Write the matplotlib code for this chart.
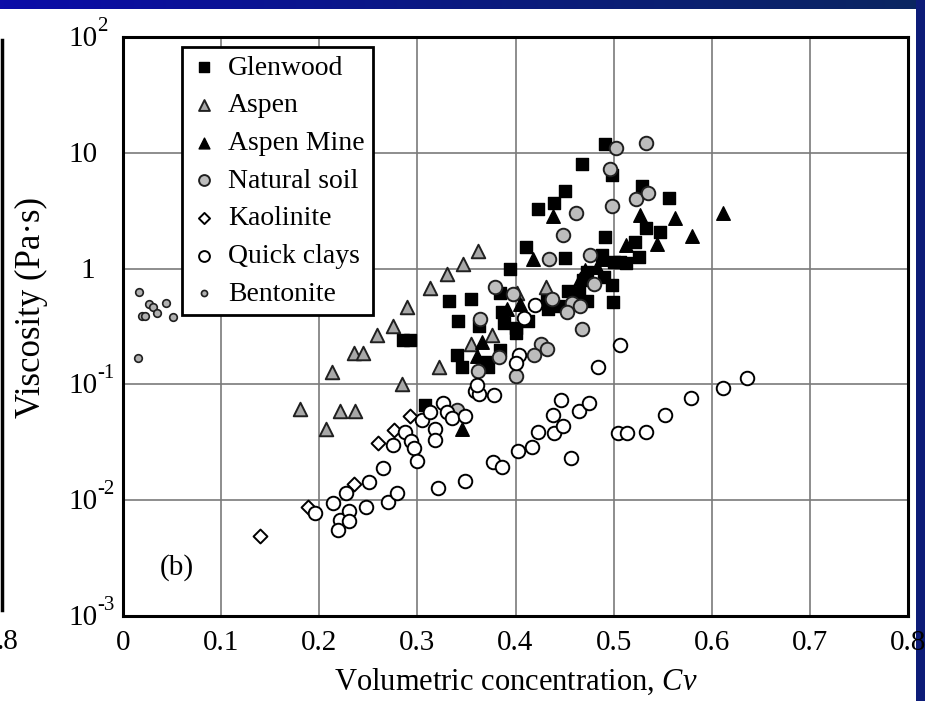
import numpy as np
import matplotlib.pyplot as plt
from matplotlib.lines import Line2D
from matplotlib.ticker import NullLocator

plt.rcParams['font.family'] = 'Liberation Serif'
plt.rcParams['mathtext.fontset'] = 'custom'
plt.rcParams['mathtext.rm'] = 'Liberation Serif'
plt.rcParams['mathtext.it'] = 'Liberation Serif:italic'

# ---- data: Cv and viscosity (Pa s) ----
glen_cv = [0.491, 0.468, 0.498, 0.450, 0.439, 0.423, 0.529, 0.556, 0.533, 0.547,
           0.491, 0.522, 0.411, 0.450, 0.394, 0.507, 0.513, 0.526, 0.488, 0.500,
           0.490, 0.473, 0.469, 0.498, 0.454, 0.465, 0.473, 0.499, 0.432, 0.433,
           0.444, 0.413, 0.384, 0.386, 0.388, 0.401, 0.401, 0.332, 0.355, 0.341,
           0.363, 0.285, 0.292, 0.340, 0.345, 0.371, 0.372, 0.384, 0.308]
glen_eta = [11.9, 8.0, 6.4, 4.7, 3.7, 3.25, 5.2, 4.07, 2.26, 2.05,
            1.87, 1.71, 1.54, 1.24, 0.99, 1.15, 1.11, 1.27, 1.30, 1.15,
            0.85, 0.94, 0.80, 0.72, 0.64, 0.61, 0.52, 0.51, 0.54, 0.45,
            0.475, 0.35, 0.62, 0.42, 0.336, 0.305, 0.276, 0.53, 0.55, 0.35,
            0.32, 0.24, 0.24, 0.178, 0.14, 0.157, 0.142, 0.198, 0.066]

aspen_cv = [0.180, 0.207, 0.221, 0.236, 0.213, 0.235, 0.245, 0.259, 0.275, 0.289,
            0.284, 0.313, 0.330, 0.346, 0.362, 0.322, 0.355, 0.376, 0.402, 0.431]
aspen_eta = [0.061, 0.041, 0.059, 0.059, 0.127, 0.185, 0.185, 0.269, 0.319, 0.463,
             0.101, 0.684, 0.89, 1.10, 1.43, 0.142, 0.223, 0.267, 0.61, 0.70]

mine_cv = [0.438, 0.418, 0.527, 0.563, 0.611, 0.580, 0.544, 0.513, 0.471, 0.490,
           0.466, 0.483, 0.405, 0.391, 0.366, 0.361, 0.345]
mine_eta = [2.85, 1.22, 2.93, 2.72, 3.02, 1.90, 1.63, 1.59, 0.97, 1.20,
            0.82, 1.03, 0.49, 0.45, 0.234, 0.176, 0.041]

soil_cv = [0.502, 0.533, 0.496, 0.498, 0.462, 0.448, 0.523, 0.535, 0.434, 0.476,
           0.379, 0.397, 0.437, 0.458, 0.466, 0.452, 0.480, 0.468, 0.364, 0.426,
           0.432, 0.419, 0.383, 0.362, 0.401, 0.340]
soil_eta = [10.9, 12.2, 7.3, 3.47, 3.0, 1.95, 3.99, 4.47, 1.20, 1.30,
            0.70, 0.60, 0.55, 0.50, 0.48, 0.42, 0.73, 0.30, 0.37, 0.224,
            0.202, 0.181, 0.172, 0.131, 0.119, 0.060]

kaol_cv = [0.292, 0.276, 0.260, 0.235, 0.189, 0.140]
kaol_eta = [0.053, 0.040, 0.031, 0.0138, 0.0087, 0.0049]

quick_cv = [0.196, 0.214, 0.221, 0.219, 0.230, 0.230, 0.227, 0.248, 0.251, 0.265,
            0.270, 0.279, 0.275, 0.287, 0.293, 0.297, 0.300, 0.305, 0.313, 0.318,
            0.318, 0.326, 0.330, 0.335, 0.349, 0.359, 0.363, 0.361, 0.378, 0.321,
            0.349, 0.377, 0.386, 0.403, 0.417, 0.423, 0.438, 0.446, 0.439, 0.448,
            0.465, 0.475, 0.457, 0.504, 0.514, 0.533, 0.552, 0.579, 0.611, 0.636,
            0.484, 0.506, 0.420, 0.409, 0.404, 0.400]
quick_eta = [0.0078, 0.0095, 0.0067, 0.0055, 0.0080, 0.0066, 0.0116, 0.0087, 0.0145, 0.0191,
             0.0097, 0.0115, 0.0297, 0.039, 0.0325, 0.0285, 0.0217, 0.049, 0.058, 0.041,
             0.033, 0.069, 0.058, 0.051, 0.053, 0.088, 0.082, 0.099, 0.081, 0.0128,
             0.0147, 0.0215, 0.0194, 0.0264, 0.029, 0.039, 0.054, 0.073, 0.038, 0.044,
             0.059, 0.0695, 0.023, 0.038, 0.038, 0.039, 0.054, 0.077, 0.094, 0.114,
             0.142, 0.219, 0.485, 0.372, 0.180, 0.152]

bent_cv = [0.016, 0.026, 0.031, 0.044, 0.019, 0.022, 0.035, 0.051, 0.015]
bent_eta = [0.63, 0.49, 0.47, 0.50, 0.39, 0.39, 0.41, 0.38, 0.17]

xtick_vals = [0, 0.1, 0.2, 0.3, 0.4, 0.5, 0.6, 0.7, 0.8]
xtick_labels = ['0', '0.1', '0.2', '0.3', '0.4', '0.5', '0.6', '0.7', '0.8']
ytick_vals = [1e-3, 1e-2, 1e-1, 1, 10, 100]
ytick_base = ['10', '10', '10', '1', '10', '10']
ytick_exp = ['-3', '-2', '-1', '', '', '2']

fig = plt.figure(figsize=(9.25, 7.01), dpi=100)

# blue slide border (top band + right band)
top = fig.add_axes([0, 692/701, 1, 9/701])
top.imshow(np.linspace(0, 1, 256)[None, :], aspect='auto',
           cmap=plt.matplotlib.colors.LinearSegmentedColormap.from_list(
               'b', ['#0c0ca8', '#0a1a80', '#0b2660']))
top.axis('off')
right = fig.add_axes([916/925, 0, 9/925, 1])
right.set_facecolor('#0d1c78')
right.set_xticks([]); right.set_yticks([])
for s in right.spines.values():
    s.set_visible(False)

# remnant of the neighbouring panel on the left
fig.add_artist(Line2D([1.5/925, 1.5/925], [91/701, 661/701], color='black', lw=2.5))
fig.text(18/925, 1 - 642/701, '.8', ha='right', va='center', fontsize=21)

ax = fig.add_axes([123/925, 85/701, 785/925, 579/701])

ax.scatter(glen_cv, glen_eta, marker='s', s=70, c='black', edgecolors='black', lw=1, label='Glenwood', zorder=3)
ax.scatter(aspen_cv, aspen_eta, marker='^', s=95, c='#a8a8a8', edgecolors='#202020', lw=1.4, label='Aspen', zorder=3)
ax.scatter(mine_cv, mine_eta, marker='^', s=95, c='black', edgecolors='black', lw=1, label='Aspen Mine', zorder=3)
ax.scatter(soil_cv, soil_eta, marker='o', s=95, c='#bdbdbd', edgecolors='#202020', lw=1.4, label='Natural soil', zorder=3)
ax.scatter(kaol_cv, kaol_eta, marker='D', s=50, c='white', edgecolors='black', lw=1.4, label='Kaolinite', zorder=3)
ax.scatter(quick_cv, quick_eta, marker='o', s=95, c='white', edgecolors='black', lw=1.4, label='Quick clays', zorder=3)
ax.scatter(bent_cv, bent_eta, marker='o', s=30, c='#b0b0b0', edgecolors='#202020', lw=1.2, label='Bentonite', zorder=3)

ax.set_yscale('log')
ax.set_xlim(0, 0.8)
ax.set_ylim(1e-3, 1e2)
ax.set_xticks(xtick_vals)
ax.set_xticklabels(xtick_labels)
ax.set_yticks(ytick_vals)
ax.set_yticklabels([])
ax.yaxis.set_minor_locator(NullLocator())
ax.tick_params(length=0, labelsize=21)
ax.tick_params(axis='x', pad=10)
ax.grid(True, color='#7a7a7a', lw=1.2)
ax.set_axisbelow(True)
for s in ax.spines.values():
    s.set_linewidth(2.2)

# y tick labels written as "10" with a raised exponent, like the original
for v, base, ex in zip(ytick_vals, ytick_base, ytick_exp):
    if ex:
        ax.annotate(base, xy=(0, v), xycoords=('axes fraction', 'data'),
                    xytext=(-25, -9), textcoords='offset pixels',
                    ha='right', va='baseline', fontsize=21, annotation_clip=False)
        ax.annotate(ex, xy=(0, v), xycoords=('axes fraction', 'data'),
                    xytext=(-26, 6), textcoords='offset pixels',
                    ha='left', va='baseline', fontsize=15, annotation_clip=False)
    else:
        dx = -35 if base == '1' else -40
        ax.annotate(base, xy=(0, v), xycoords=('axes fraction', 'data'),
                    xytext=(dx, -9), textcoords='offset pixels',
                    ha='center', va='baseline', fontsize=21, annotation_clip=False)

ax.set_xlabel(r'Volumetric concentration, $\mathit{Cv}$', fontsize=22, labelpad=8)
ax.set_ylabel('Viscosity (Pa·s)', fontsize=25)
ax.yaxis.set_label_coords(-0.096, 0.532)

ax.text(0.069, 0.083, '(b)', transform=ax.transAxes, ha='center', va='center', fontsize=21)

leg = ax.legend(loc='upper left', bbox_to_anchor=(0.075, 0.983), fontsize=20,
                markerscale=0.8, handletextpad=0.35, labelspacing=0.44,
                borderpad=0.3, handlelength=1.0, fancybox=False, framealpha=1,
                edgecolor='black', borderaxespad=0)
leg.get_frame().set_linewidth(2)

fig.savefig('out.png', dpi=100)
